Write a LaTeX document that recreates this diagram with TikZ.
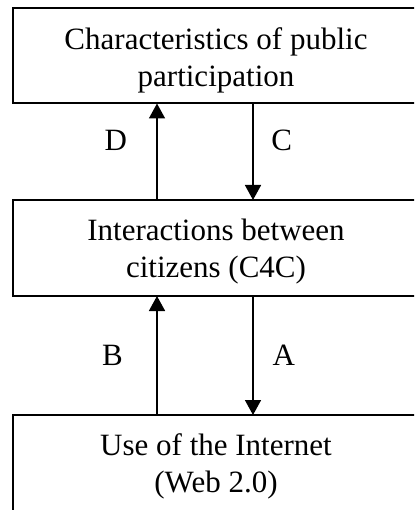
\documentclass[tikz,border=0pt]{standalone}
\usepackage{fontspec}
\setmainfont{Liberation Serif}
\usetikzlibrary{arrows.meta}
\begin{document}
\begin{tikzpicture}[x=1pt,y=-1pt,
  boxnode/.style={draw, line width=2pt, rectangle, inner sep=0pt, outer sep=0pt, minimum width=406pt},
  txt/.style={font=\fontsize{31}{37}\selectfont, align=center, inner sep=0pt, anchor=north},
  lbl/.style={font=\fontsize{31}{37}\selectfont, inner sep=0pt, anchor=base},
  conn/.style={line width=1.6pt, -{Triangle[width=16pt,length=15pt]}}]
\useasboundingbox (0,0) rectangle (414,510);
\clip (0,0) rectangle (414,510);
% boxes
\node[boxnode, minimum height=95.5pt] (top) at (216,55.75) {};
\node[boxnode, minimum height=96pt] (mid) at (216,248) {};
\node[boxnode, minimum height=120pt] (bot) at (216,475) {};
% texts
\node[txt] (toptext) at (216,27.1) {Characteristics of public\\participation};
\node[txt] (midtext) at (216,218.8) {Interactions between\\citizens (C4C)};
\node[txt] (bottext) at (216,433.8) {Use of the Internet\\(Web 2.0)};
% arrow columns
\coordinate (ux) at (157,0);
\coordinate (dx) at (253,0);
\draw[conn] (mid.north -| ux) -- (top.south -| ux);
\draw[conn] (top.south -| dx) -- (mid.north -| dx);
\draw[conn] (bot.north -| ux) -- (mid.south -| ux);
\draw[conn] (mid.south -| dx) -- (bot.north -| dx);
% labels
\node[lbl] (lD) at (115.8,150.5) {D};
\node[lbl] (lC) at (281.7,150.5) {C};
\node[lbl] (lB) at (112.5,365) {B};
\node[lbl] (lA) at (283.8,365) {A};
\end{tikzpicture}
\end{document}
